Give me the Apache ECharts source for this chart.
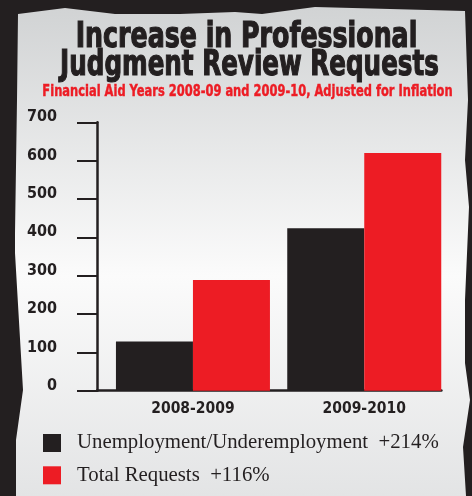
<!DOCTYPE html>
<html>
<head>
<meta charset="utf-8">
<script src="https://cdn.jsdelivr.net/npm/echarts@6/dist/echarts.min.js"></script>
<style>
html,body{margin:0;padding:0;background:#231f20;}
#chart{width:472px;height:496px;}
</style>
</head>
<body>
<div id="chart"></div>
<script>
// ---- data ----
const categories = ['2008-2009', '2009-2010'];
const unemploymentValues = [128, 424];
const totalRequestValues = [289, 620];
const seriesNames = ['Unemployment/Underemployment  +214%', 'Total Requests  +116%'];
const yMin = 0, yMax = 700, yStep = 100;
const titleLines = ['Increase in Professional', 'Judgment Review Requests'];
const subtitleText = 'Financial Aid Years 2008-09 and 2009-10, Adjusted for Inflation';

const DARK = '#231f20';
const RED = '#ed1c24';
const COND = '"DejaVu Sans Condensed", "DejaVu Sans", sans-serif';

const chart = echarts.init(document.getElementById('chart'), null, {renderer: 'canvas'});

const paper = [
  [18,14],[65,8],[115,14],[180,14],[235,12],[262,14],[315,7],[465,11],
  [468,100],[465,160],[469,207],[465,300],[465,363],[470,400],[463,447],[466,496],
  [16,496],[16,440],[23,390],[15,253],[15,233],[17,100]
];

function titleText(str, x, y, size, sx, color, stroke) {
  return {
    type: 'text', x: x, y: y, scaleX: sx, scaleY: 1, z: 10, silent: true,
    style: {
      text: str, fill: color, stroke: color, lineWidth: stroke,
      font: 'bold ' + size + 'px ' + COND,
      textAlign: 'center', textVerticalAlign: 'middle'
    }
  };
}

chart.setOption({
  backgroundColor: DARK,
  animation: false,
  graphic: [
    {
      type: 'polygon', z: -10, silent: true,
      shape: {points: paper},
      style: {
        fill: new echarts.graphic.LinearGradient(0, 0, 0, 1, [
          {offset: 0, color: '#d1d3d4'},
          {offset: 0.55, color: '#fbfbfb'},
          {offset: 1, color: '#e3e4e5'}
        ])
      }
    },
    titleText(titleLines[0], 246.5, 38, 36, 0.78, DARK, 1.2),
    titleText(titleLines[1], 249.5, 66, 36, 0.76, DARK, 1.2),
    titleText(subtitleText, 247.5, 92, 15, 0.85, RED, 0.4)
  ],
  legend: {
    orient: 'vertical',
    left: 43,
    top: 432.5,
    padding: 0,
    itemWidth: 18,
    itemHeight: 18,
    itemGap: 11.3,
    icon: 'rect',
    data: seriesNames,
    textStyle: {fontFamily: '"Liberation Serif", serif', fontSize: 20.8, color: DARK, padding: [0,0,0,11]}
  },
  grid: [
    {left: 97, top: 122.3, width: 344.4, height: 268.4},
    {left: 107.3, top: 122.3, width: 342.6, height: 268.4}
  ],
  xAxis: [
    {
      gridIndex: 0, type: 'value', min: 0, max: 1,
      axisLine: {show: true, lineStyle: {color: DARK, width: 2.5}},
      axisTick: {show: false}, axisLabel: {show: false}, splitLine: {show: false}
    },
    {
      gridIndex: 1, type: 'category', data: categories,
      axisLine: {show: false}, axisTick: {show: false},
      axisLabel: {margin: 10, fontFamily: COND, fontWeight: 'bold', fontSize: 15.5, color: DARK}
    }
  ],
  yAxis: [
    {
      gridIndex: 0, type: 'value', min: yMin, max: yMax, interval: yStep,
      axisLine: {show: true, lineStyle: {color: DARK, width: 2.5}},
      axisTick: {show: true, length: 20, lineStyle: {color: DARK, width: 2}},
      splitLine: {show: false},
      axisLabel: {margin: 40, fontFamily: COND, fontWeight: 'bold', fontSize: 16, color: DARK, lineHeight: 10, verticalAlign: 'bottom'}
    },
    {
      gridIndex: 1, type: 'value', min: yMin, max: yMax, interval: yStep, show: false
    }
  ],
  series: [
    {
      name: seriesNames[0], type: 'bar', xAxisIndex: 1, yAxisIndex: 1,
      data: unemploymentValues, barWidth: 77, barGap: 0,
      itemStyle: {color: DARK}
    },
    {
      name: seriesNames[1], type: 'bar', xAxisIndex: 1, yAxisIndex: 1,
      data: totalRequestValues, barWidth: 77, barGap: 0,
      itemStyle: {color: RED}
    }
  ]
});
</script>
</body>
</html>
